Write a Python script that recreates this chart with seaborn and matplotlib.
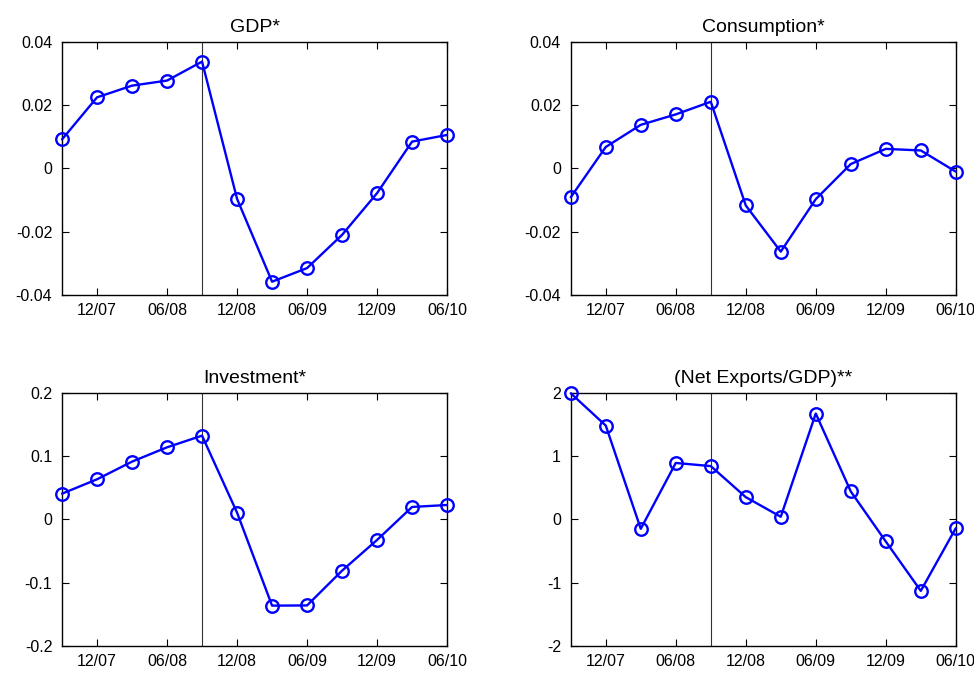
import matplotlib
matplotlib.use("Agg")
import matplotlib.pyplot as plt
import seaborn as sns
import pandas as pd

# Quarter-end labels (Sep 2007 .. Jun 2010)
quarters = ["09/07", "12/07", "03/08", "06/08", "09/08", "12/08",
            "03/09", "06/09", "09/09", "12/09", "03/10", "06/10"]

gdp = [0.0092, 0.0225, 0.0262, 0.0278, 0.0338, -0.0096,
       -0.0358, -0.0315, -0.0210, -0.0078, 0.0085, 0.0106]
consumption = [-0.0091, 0.0068, 0.0138, 0.0171, 0.0211, -0.0117,
               -0.0263, -0.0097, 0.0014, 0.0062, 0.0057, -0.0010]
investment = [0.0405, 0.0632, 0.0911, 0.1137, 0.1321, 0.0105,
              -0.1363, -0.1360, -0.0811, -0.0326, 0.0195, 0.0226]
net_exports = [1.99, 1.48, -0.15, 0.89, 0.84, 0.35,
               0.04, 1.67, 0.44, -0.35, -1.13, -0.14]

titles = ["GDP*", "Consumption*", "Investment*", "(Net Exports/GDP)**"]
y_ticks = [[-0.04, -0.02, 0, 0.02, 0.04],
           [-0.04, -0.02, 0, 0.02, 0.04],
           [-0.2, -0.1, 0, 0.1, 0.2],
           [-2, -1, 0, 1, 2]]
y_ticklabels = [["-0.04", "-0.02", "0", "0.02", "0.04"],
                ["-0.04", "-0.02", "0", "0.02", "0.04"],
                ["-0.2", "-0.1", "0", "0.1", "0.2"],
                ["-2", "-1", "0", "1", "2"]]
event_quarter = "09/08"

sns.set_style("ticks")
plt.rcParams["font.family"] = ["Liberation Sans", "DejaVu Sans"]

fig = plt.figure(figsize=(9.74, 6.75), dpi=100)
positions = [[0.0637, 0.563, 0.3953, 0.3748],
             [0.586, 0.563, 0.3953, 0.3748],
             [0.0637, 0.043, 0.3953, 0.3753],
             [0.586, 0.043, 0.3953, 0.3753]]

series = [gdp, consumption, investment, net_exports]
x_pos = list(range(len(quarters)))
label_idx = list(range(1, len(quarters), 2))
event_x = quarters.index(event_quarter)

for pos, vals, title, yt, ytl in zip(positions, series, titles, y_ticks, y_ticklabels):
    ax = fig.add_axes(pos)
    df = pd.DataFrame({"q": x_pos, "v": vals})
    ax.axvline(event_x, color="#333333", linewidth=0.8, zorder=1)
    sns.lineplot(data=df, x="q", y="v", ax=ax, color="#0000ff",
                 linewidth=1.7, marker="o", markersize=9,
                 markerfacecolor="none", markeredgecolor="#0000ff",
                 markeredgewidth=1.7, clip_on=False, zorder=3)
    ax.set_xlim(0, len(quarters) - 1)
    ax.set_ylim(yt[0], yt[-1])
    ax.set_xticks(label_idx)
    ax.set_xticklabels([quarters[i] for i in label_idx])
    ax.set_yticks(yt)
    ax.set_yticklabels(ytl)
    ax.set_xlabel("")
    ax.set_ylabel("")
    ax.set_title(title, fontsize=14, pad=7, color="black")
    ax.tick_params(axis="both", direction="in", top=True, right=True,
                   length=5, width=0.8, labelsize=11.5, colors="black")
    ax.tick_params(axis="x", pad=6)
    ax.tick_params(axis="y", pad=7)
    for s in ax.spines.values():
        s.set_visible(True)
        s.set_color("black")
        s.set_linewidth(1.0)

fig.savefig("out.png", dpi=100, facecolor="white")
